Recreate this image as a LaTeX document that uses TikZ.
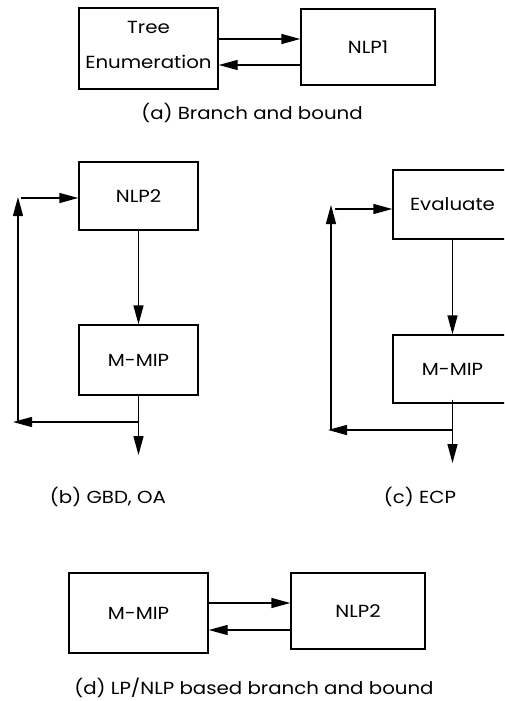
\documentclass[tikz,border=0pt]{standalone}
\usepackage{fontspec}
\setmainfont{Poppins}[FakeStretch=1.13]
\usetikzlibrary{arrows.meta}
\begin{document}
\begin{tikzpicture}[x=1pt,y=-1pt,
  font=\fontsize{17.5}{21}\selectfont,
  box/.style={draw,line width=1.4pt,inner sep=0pt,align=center},
  conn/.style={line width=1.4pt},
  arr/.style={conn,-{Triangle[length=19pt,width=10pt]}},
  captext/.style={inner sep=0pt,anchor=center}]
\clip (0,0) rectangle (504,701);
\fill[white] (0,0) rectangle (504,701);
% (a)
\node[box,minimum width=139pt,minimum height=81pt] (tree) at (148.5,48.5) {Tree\\[14pt]Enumeration\\[-14pt]\mbox{}};
\node[box,minimum width=134pt,minimum height=76pt] (nlp1) at (368,47) {NLP1};
\draw[arr] (tree.east |- 0,39) -- (nlp1.west |- 0,39);
\draw[arr] (nlp1.west |- 0,65) -- (tree.east |- 0,65);
\node[captext] (capa) at (252,113) {(a) Branch and bound};
% (b)
\node[box,minimum width=119pt,minimum height=68pt] (nlp2b) at (138.5,196) {NLP2};
\node[box,minimum width=119pt,minimum height=70pt] (mmipb) at (138.5,360) {M-MIP};
\draw[arr] (nlp2b.south) -- (mmipb.north);
\coordinate (bj) at (138.5,422);
\coordinate (bout) at (138.5,455);
\coordinate (bl) at (13,422);
\coordinate (bv) at (18,422);
\coordinate (bt) at (18,197);
\coordinate (bh) at (21,198);
\draw[arr] ([yshift=2pt]mmipb.south) -- (bout);
\draw[arr] (bj) -- (bl);
\draw[arr] (bv) -- (bt);
\draw[arr] (bh) -- (bh -| nlp2b.west);
\node[captext] (capb) at (108,497) {(b) GBD, OA};
% (c)
\node[box,minimum width=119pt,minimum height=69pt] (eval) at (452.5,204.5) {Evaluate};
\node[box,minimum width=119pt,minimum height=68pt] (mmipc) at (452.5,369) {M-MIP};
\draw[arr] (eval.south) -- (mmipc.north);
\coordinate (cj) at (452.5,430);
\coordinate (cout) at (452.5,463);
\coordinate (cl) at (328,430);
\coordinate (cv) at (331,430);
\coordinate (ct) at (331,205);
\coordinate (ch) at (335,209);
\draw[arr] ([yshift=4pt]mmipc.south) -- (cout);
\draw[arr] (cj) -- (cl);
\draw[arr] (cv) -- (ct);
\draw[arr] (ch) -- (ch -| eval.west);
\node[captext] (capc) at (420,497) {(c) ECP};
% (d)
\node[box,minimum width=139pt,minimum height=80pt] (mmipd) at (138.5,613) {M-MIP};
\node[box,minimum width=134pt,minimum height=76pt] (nlp2d) at (358,611) {NLP2};
\draw[arr] (mmipd.east |- 0,603) -- (nlp2d.west |- 0,603);
\draw[arr] (nlp2d.west |- 0,630) -- (mmipd.east |- 0,630);
\node[captext] (capd) at (254,688) {(d) LP/NLP based branch and bound};
\end{tikzpicture}
\end{document}
